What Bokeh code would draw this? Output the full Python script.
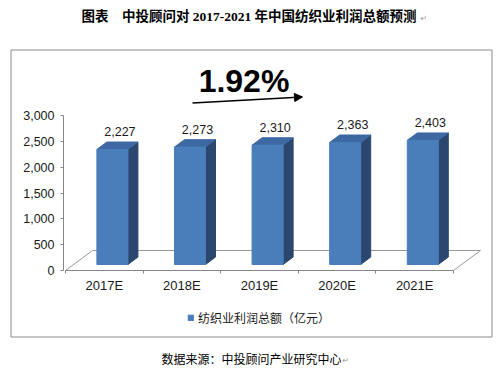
from bokeh.plotting import figure
from bokeh.models import (Range1d, LinearAxis, FixedTicker, NumeralTickFormatter,
                          Legend, LegendItem, Arrow, NormalHead)
from bokeh.core.properties import value
from bokeh.embed import file_html
from bokeh.resources import INLINE

# ---------------- data ----------------
categories = ["2017E", "2018E", "2019E", "2020E", "2021E"]
profit = [2227, 2273, 2310, 2363, 2403]
y_ticks = [0, 500, 1000, 1500, 2000, 2500, 3000]
y_max = 3000
growth = "1.92%"
series_name = "纺织业利润总额（亿元）"
title_text = "图表　中投顾问对 2017-2021 年中国纺织业利润总额预测"
source_text = "数据来源：中投顾问产业研究中心"
para_mark = "↵"

# ---------------- layout helpers ----------------
W, H = 498, 372
PAGE = 0
X0 = 65 - PAGE          # figure px of the first category boundary
Y0 = 270 - PAGE         # figure px (from top) of value 0
CAT_PX = 77.6           # pixels per category
VAL_PX = 155 / y_max    # pixels per value unit


def dx(px):
    return px / CAT_PX


def dy(px):
    return px / VAL_PX


def ix(img_x):
    return (img_x - PAGE - X0) / CAT_PX


def iy(img_y):
    return (Y0 - (img_y - PAGE)) / VAL_PX


p = figure(width=W, height=H, output_backend="svg", toolbar_location=None,
           x_range=Range1d(ix(PAGE), ix(PAGE + W)),
           y_range=Range1d(iy(PAGE + H), iy(PAGE)),
           x_axis_location=None, y_axis_location=None, min_border=0)
p.outline_line_color = None
p.grid.visible = False
p.background_fill_color = "white"

n = len(categories)

# chart border
p.quad(left=[ix(10.5)], right=[ix(491.5)], top=[iy(49.5)], bottom=[iy(336.5)],
       fill_color=None, line_color="#8c8c8c", line_width=1)

# 3D floor
DX, DY = dx(27), dy(20)
p.segment(x0=[0, DX, n], y0=[0, DY, 0], x1=[DX, n + DX, n + DX], y1=[DY, DY, DY],
          line_color="#9a9a9a", line_width=1)

# 3D bars
f0, f1 = 0.30, 0.67
bw = 0.40
centers = [i + 0.5 + f0 * DX for i in range(n)]
base = f0 * DY
ddx, ddy = (f1 - f0) * DX, (f1 - f0) * DY
left = [c - bw / 2 for c in centers]
right = [c + bw / 2 for c in centers]
bottom = [base] * n
top = [base + v for v in profit]

side_xs = [[r, r + ddx, r + ddx, r] for r in right]
side_ys = [[base, base + ddy, t + ddy, t] for t in top]
top_xs = [[l, r, r + ddx, l + ddx] for l, r in zip(left, right)]
top_ys = [[t, t, t + ddy, t + ddy] for t in top]

p.patches(side_xs, side_ys, fill_color="#2b4770", line_color="#2b4770")
p.patches(top_xs, top_ys, fill_color="#3d68a2", line_color="#3d68a2")
front = p.quad(left=left, right=right, bottom=bottom, top=top,
               fill_color="#4a7ebb", line_color="#4a7ebb")

# data labels
p.text(x=[c + dx(7.5) for c in centers], y=[t + ddy + dy(10.5) for t in top],
       text=[f"{v:,}" for v in profit], text_align="center", text_baseline="middle",
       text_font=value("Liberation Sans"), text_font_size="12.5px", text_color="#1a1a1a")

# y axis
yax = LinearAxis(fixed_location=-dx(2), ticker=FixedTicker(ticks=y_ticks),
                 formatter=NumeralTickFormatter(format="0,0"), bounds=(0, y_max))
yax.axis_line_color = "#868686"
yax.major_tick_line_color = "#868686"
yax.major_tick_out = 3
yax.major_tick_in = 0
yax.minor_tick_line_color = None
yax.major_label_standoff = 6
yax.major_label_text_font = "Liberation Sans"
yax.major_label_text_font_size = "12.5px"
yax.major_label_text_color = "#1a1a1a"
p.add_layout(yax, "left")

# x axis line with boundary ticks
xax = LinearAxis(fixed_location=0, ticker=FixedTicker(ticks=list(range(n + 1))),
                 bounds=(0, n), major_label_overrides={i: "" for i in range(n + 1)})
xax.axis_line_color = "#868686"
xax.major_tick_line_color = "#868686"
xax.major_tick_out = 3
xax.major_tick_in = 0
xax.minor_tick_line_color = None
p.add_layout(xax, "below")

# category labels
cax = LinearAxis(fixed_location=0, ticker=FixedTicker(ticks=[i + 0.5 for i in range(n)]),
                 major_label_overrides={i + 0.5: c for i, c in enumerate(categories)})
cax.axis_line_color = None
cax.major_tick_line_color = None
cax.minor_tick_line_color = None
cax.major_tick_out = 0
cax.major_tick_in = 0
cax.major_label_standoff = 7
cax.major_label_text_font = "Liberation Sans"
cax.major_label_text_font_size = "13px"
cax.major_label_text_color = "#1a1a1a"
p.add_layout(cax, "below")

# growth annotation
p.add_layout(Arrow(end=NormalHead(size=8, fill_color="black", line_color="black", line_width=1),
                   x_start=ix(192), y_start=iy(102.5), x_end=ix(302), y_end=iy(96.5),
                   line_color="black", line_width=1.5))
p.text(x=[ix(243.5)], y=[iy(80)], text=[growth], text_align="center",
       text_baseline="middle", text_font=value("Liberation Sans"),
       text_font_style="bold", text_font_size="32px", text_color="black")

# legend
legend = Legend(items=[LegendItem(label=series_name, renderers=[front])],
                location=(187, 46), orientation="horizontal", padding=0, margin=0,
                border_line_color=None, background_fill_alpha=0,
                glyph_width=7, glyph_height=7, label_standoff=4, label_height=7,
                spacing=0, label_text_font="Noto Sans CJK SC",
                label_text_font_size="12px", label_text_color="#1a1a1a")
p.add_layout(legend)

# title and source
p.text(x=[ix(248.5)], y=[iy(16)], text=[title_text], text_align="center",
       text_baseline="middle",
       text_font=value("'Liberation Serif', 'Noto Sans CJK SC'"),
       text_font_style="bold", text_font_size="13.5px", text_color="black")
p.text(x=[ix(420)], y=[iy(18)], text=[para_mark], text_align="left", text_baseline="middle",
       text_font=value("DejaVu Sans"), text_font_size="8px", text_color="#9a9a9a")
p.text(x=[ix(251)], y=[iy(358)], text=[source_text], text_align="center",
       text_baseline="middle", text_font=value("Noto Sans CJK SC"),
       text_font_size="12px", text_color="black")
p.text(x=[ix(342)], y=[iy(360)], text=[para_mark], text_align="left", text_baseline="middle",
       text_font=value("DejaVu Sans"), text_font_size="8px", text_color="#9a9a9a")

open("out.html", "w").write(file_html(p, INLINE))
